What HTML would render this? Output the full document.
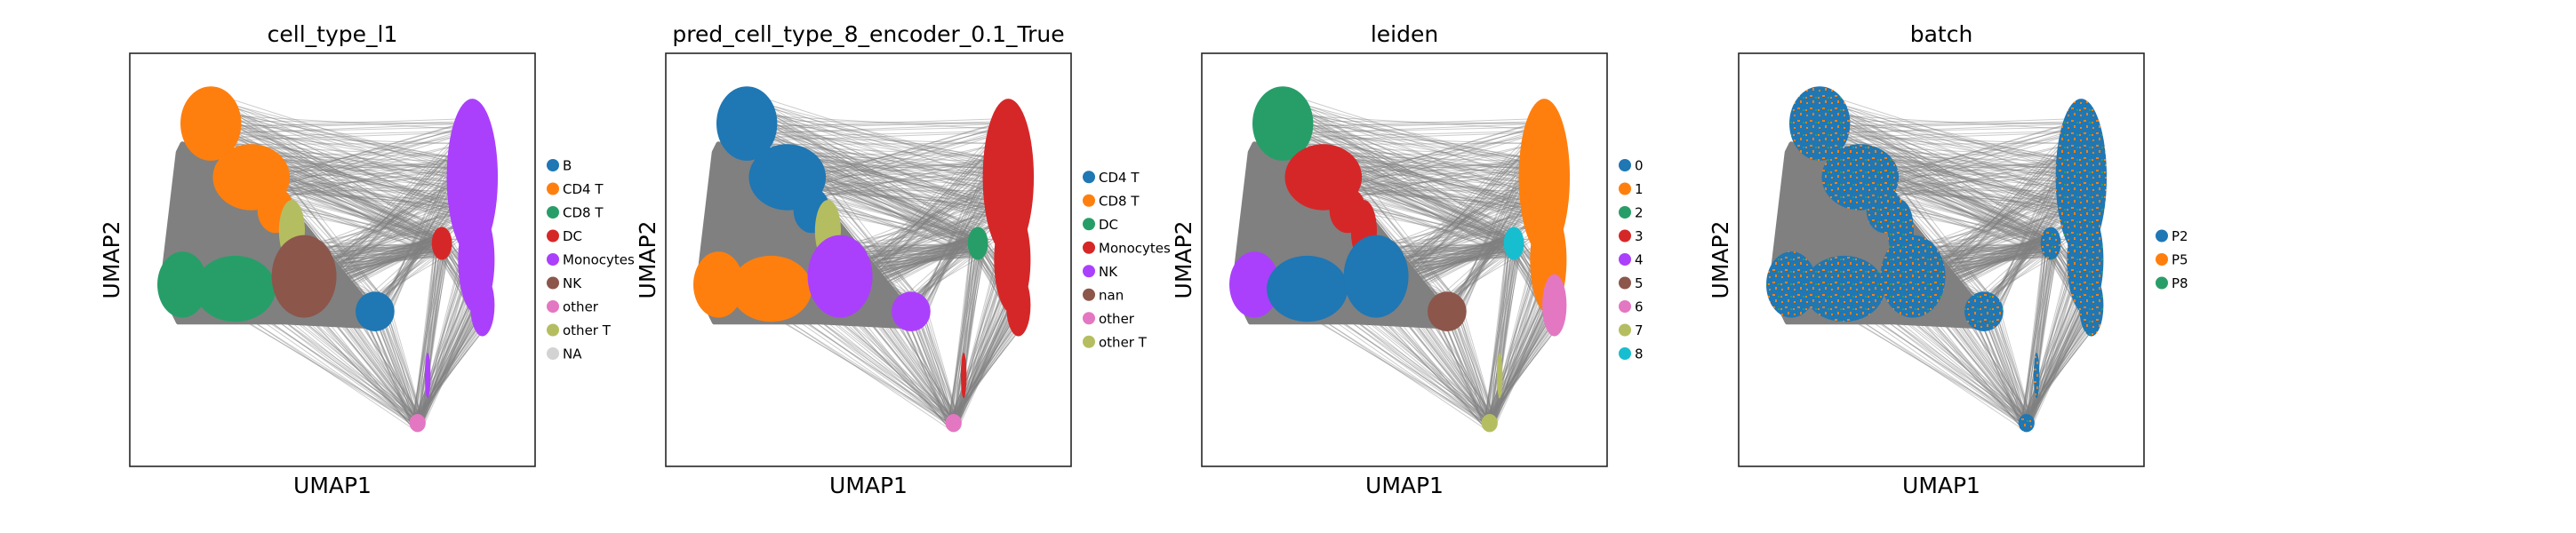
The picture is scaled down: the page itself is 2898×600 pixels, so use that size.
<!DOCTYPE html>
<html><head><meta charset="utf-8">
<style>
html,body{margin:0;padding:0;background:#fff;}
svg{display:block;font-family:"DejaVu Sans","Liberation Sans",sans-serif;}
</style></head>
<body>
<svg id="fig" width="2898" height="600" viewBox="0 0 2898 600" xmlns="http://www.w3.org/2000/svg">
<defs>
<pattern id="speckle" width="14" height="14" patternUnits="userSpaceOnUse">
<rect width="14" height="14" fill="#1f77b4"/>
<rect x="2" y="3" width="2" height="2" fill="#ff7f0e"/>
<rect x="9" y="1" width="2" height="3" fill="#ff7f0e"/>
<rect x="6" y="9" width="3" height="2" fill="#ff7f0e"/>
<rect x="12" y="11" width="2" height="2" fill="#279e68"/>
<rect x="1" y="11" width="2" height="2" fill="#ff7f0e"/>
</pattern>
</defs>
</svg>
<script>
// Cluster geometry in UMAP coords (0-10 domain, y up)
const clusterNames = ["cd4a","cd4b","cd4c","otherT","cd8a","cd8b","nk","B","mono","mono3","mono2","dc","other","streak"];
const clusterX  = [2.0, 3.0, 3.6, 4.0, 1.3, 2.6, 4.3, 6.05, 8.45, 8.55, 8.7, 7.7, 7.1, 7.35];
const clusterY  = [8.3, 7.0, 6.2, 5.7, 4.4, 4.3, 4.6, 3.75, 7.0, 5.0, 3.9, 5.4, 1.05, 2.2];
const clusterRX = [0.75, 0.95, 0.45, 0.32, 0.62, 1.0, 0.8, 0.48, 0.63, 0.45, 0.3, 0.25, 0.2, 0.07];
const clusterRY = [0.9, 0.8, 0.55, 0.75, 0.8, 0.8, 1.0, 0.48, 1.9, 1.3, 0.75, 0.4, 0.22, 0.55];
// background gray mass (UMAP coords)
const massX = [1.3, 2.7, 4.0, 5.8, 5.8, 3.8, 1.2, 0.8, 1.2];
const massY = [7.8, 7.3, 6.2, 4.0, 3.4, 3.5, 3.5, 4.3, 7.6];
// edge bundles
const edgeFrom  = [0,1,6,6,7,7,5,6,10,11,0,1,6,8,11,4,0,1,9];
const edgeTo    = [8,8,11,8,8,12,12,12,12,12,4,7,7,10,10,7,11,11,12];
const edgeCount = [50,50,90,50,40,30,20,30,40,30,40,30,50,20,40,20,30,30,30];

const palette = {blue:"#1f77b4",orange:"#ff7f0e",green:"#279e68",red:"#d62728",purple:"#aa40fc",brown:"#8c564b",pink:"#e377c2",olive:"#b5bd61",cyan:"#17becf",na:"#d3d3d3",batch:"url(#speckle)"};
const panelTitles = ["cell_type_l1","pred_cell_type_8_encoder_0.1_True","leiden","batch"];
const panelLeft = [146, 749, 1352, 1956];
const clusterColors = [
 ["orange","orange","orange","olive","green","green","brown","blue","purple","purple","purple","red","pink","purple"],
 ["blue","blue","blue","olive","orange","orange","purple","purple","red","red","red","green","pink","red"],
 ["green","red","red","red","purple","blue","blue","brown","orange","orange","pink","cyan","olive","olive"],
 ["batch","batch","batch","batch","batch","batch","batch","batch","batch","batch","batch","batch","batch","batch"]
];
const legendLabels = [
 ["B","CD4 T","CD8 T","DC","Monocytes","NK","other","other T","NA"],
 ["CD4 T","CD8 T","DC","Monocytes","NK","nan","other","other T"],
 ["0","1","2","3","4","5","6","7","8"],
 ["P2","P5","P8"]
];
const legendColors = [
 ["blue","orange","green","red","purple","brown","pink","olive","na"],
 ["blue","orange","green","red","purple","brown","pink","olive"],
 ["blue","orange","green","red","purple","brown","pink","olive","cyan"],
 ["blue","orange","green"]
];

const NS="http://www.w3.org/2000/svg";
const svg=document.getElementById("fig");
const W=456, H=465, TOP=60;
function mk(tag,attrs,parent){const e=document.createElementNS(NS,tag);for(const k in attrs)e.setAttribute(k,attrs[k]);(parent||svg).appendChild(e);return e;}

panelTitles.forEach((title,p)=>{
  const L=panelLeft[p];
  const sx=v=>L+v/10*W, sy=v=>TOP+H-v/10*H;
  const g=mk("g",{});
  
  
  const cp=mk("clipPath",{id:"clip"+p},g);
  mk("rect",{x:L,y:TOP,width:W,height:H},cp);
  const plot=mk("g",{"clip-path":"url(#clip"+p+")"},g);
  const eg=mk("g",{stroke:"#808080","stroke-width":"1","stroke-opacity":"0.4"},plot);
  
  
  edgeFrom.forEach((a,i)=>{
    const b=edgeTo[i], n=edgeCount[i];
    for(let k=0;k<n;k++){
      const t1=k*2.39996, r1=Math.sqrt((k+0.5)/n)*0.85;
      const t2=k*3.8832+1.1, r2=Math.sqrt(((k*7)%n+0.5)/n)*0.85;
      mk("line",{x1:sx(clusterX[a]+Math.cos(t1)*r1*clusterRX[a]),y1:sy(clusterY[a]+Math.sin(t1)*r1*clusterRY[a]),
                 x2:sx(clusterX[b]+Math.cos(t2)*r2*clusterRX[b]),y2:sy(clusterY[b]+Math.sin(t2)*r2*clusterRY[b])},eg);
    }
  });
  const mass=mk("polygon",{points:massX.map((x,i)=>sx(x)+","+sy(massY[i])).join(" "),fill:"#808080","stroke":"#808080","stroke-width":"6","stroke-linejoin":"round"},plot);
  
  
  clusterNames.forEach((nm,i)=>{
    const e=mk("ellipse",{cx:sx(clusterX[i]),cy:sy(clusterY[i]),rx:clusterRX[i]/10*W,ry:clusterRY[i]/10*H,fill:palette[clusterColors[p][i]]},plot);
    
    
  });
  const fr=mk("rect",{x:L,y:TOP,width:W,height:H,fill:"none",stroke:"#262626","stroke-width":"1.6"},g);
  
  
  const tt=mk("text",{x:L+W/2,y:47,"text-anchor":"middle","font-size":"25",fill:"#000"},g);
  tt.textContent=title;
  
  
  const xl=mk("text",{x:L+W/2,y:555,"text-anchor":"middle","font-size":"25",fill:"#000"},g);
  xl.textContent="UMAP1";
  
  
  const yl=mk("text",{x:0,y:0,"text-anchor":"middle","font-size":"25",fill:"#000",transform:"translate("+(L-12)+","+(TOP+H/2)+") rotate(-90)"},g);
  yl.textContent="UMAP2";
  
  
  const labs=legendLabels[p];
  const y0=186+(9-labs.length)/2*26.5;
  labs.forEach((lab,i)=>{
    const lg=mk("g",{},g);
    
    
    mk("circle",{cx:L+W+20,cy:y0+i*26.5,r:7,fill:palette[legendColors[p][i]]},lg);
    const t=mk("text",{x:L+W+31,y:y0+i*26.5+5.5,"font-size":"15",fill:"#000"},lg);
    t.textContent=lab;
  });
});
</script>
</body></html>
